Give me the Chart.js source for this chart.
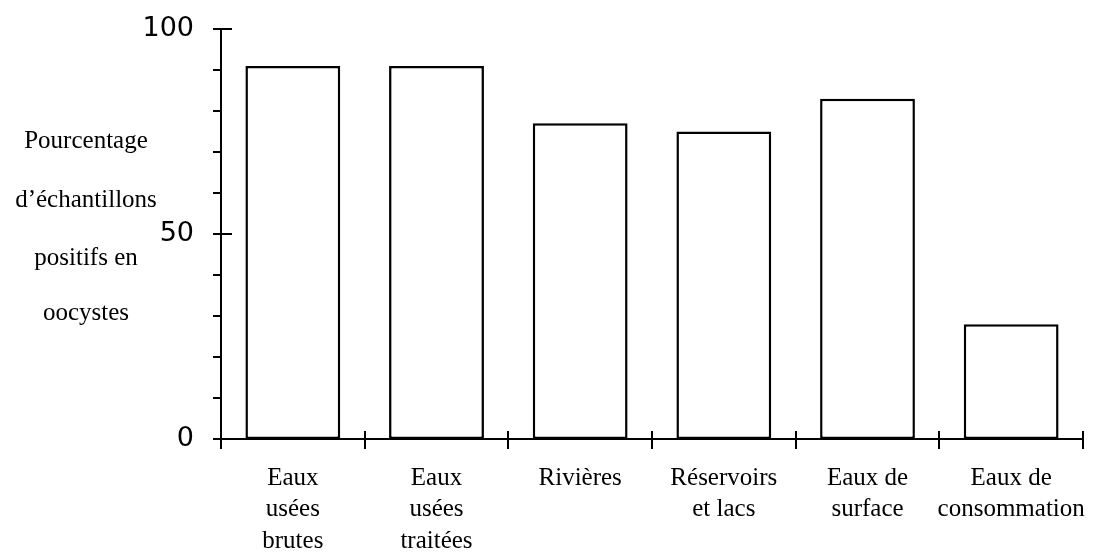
<!DOCTYPE html>
<html>
<head>
<meta charset="utf-8">
<script src="https://cdn.jsdelivr.net/npm/chart.js@4.4.1/dist/chart.umd.min.js"></script>
<style>
  html, body { margin: 0; padding: 0; background: #fff; }
  canvas { display: block; }
</style>
</head>
<body>
<canvas id="c" width="1096" height="552"></canvas>
<script>
const categories = [
  ["Eaux", "usées", "brutes"],
  ["Eaux", "usées", "traitées"],
  "Rivières",
  ["Réservoirs", "et lacs"],
  ["Eaux de", "surface"],
  ["Eaux de", "consommation"]
];
const values = [91, 91, 77, 75, 83, 28];
const yLabeledTicks = [0, 50, 100];
const yTitleLines = ["Pourcentage", "d’échantillons", "positifs en", "oocystes"];

const SERIF = '"Liberation Serif", "Times New Roman", serif';
const SANS = '"DejaVu Sans", Verdana, sans-serif';

const ticksPlugin = {
  id: 'ticksPlugin',
  afterDraw(chart) {
    const ctx = chart.ctx;
    const y = chart.scales.y;
    const area = chart.chartArea;
    ctx.save();
    ctx.strokeStyle = '#000';
    ctx.lineWidth = 2;
    ctx.lineCap = 'butt';
    for (let v = 0; v <= 100; v += 10) {
      const py = Math.round(y.getPixelForValue(v));
      const major = yLabeledTicks.includes(v);
      ctx.beginPath();
      ctx.moveTo(area.left - 8, py);
      ctx.lineTo(major ? area.left + 11 : area.left, py);
      ctx.stroke();
    }
    const n = categories.length;
    for (let i = 0; i <= n; i++) {
      const px = Math.round(area.left + i * (area.right - area.left) / n);
      ctx.beginPath();
      ctx.moveTo(px, area.bottom - 8);
      ctx.lineTo(px, area.bottom + 10);
      ctx.stroke();
    }
    ctx.fillStyle = '#000';
    ctx.font = '25px ' + SERIF;
    ctx.textAlign = 'center';
    ctx.textBaseline = 'alphabetic';
    const baselines = [148, 207, 265, 320];
    yTitleLines.forEach((t, i) => ctx.fillText(t, 86, baselines[i]));
    ctx.restore();
  }
};

new Chart(document.getElementById('c'), {
  type: 'bar',
  data: {
    labels: categories,
    datasets: [{
      data: values,
      backgroundColor: '#fff',
      borderColor: '#000',
      borderWidth: 2.5,
      borderSkipped: false,
      barPercentage: 0.66,
      categoryPercentage: 1
    }]
  },
  options: {
    responsive: false,
    animation: false,
    devicePixelRatio: 1,
    layout: { padding: { left: 0, top: 29, right: 13, bottom: 0 } },
    plugins: { legend: { display: false }, tooltip: { enabled: false }, title: { display: false } },
    scales: {
      x: {
        grid: { display: false, drawTicks: false },
        border: { display: true, color: '#000', width: 2 },
        ticks: {
          color: '#000',
          font: { family: SERIF, size: 25, lineHeight: 1.25 },
          padding: 24,
          maxRotation: 0,
          minRotation: 0,
          autoSkip: false
        },
        afterFit(scale) {
          scale.height = 113;
          scale.paddingLeft = 0; scale.paddingRight = 0;
        }
      },
      y: {
        min: 0,
        max: 100,
        grid: { display: false, drawTicks: false },
        border: { display: true, color: '#000', width: 2 },
        ticks: {
          stepSize: 10,
          color: '#000',
          padding: 27,
          font: { family: SANS, size: 27 },
          callback: (v) => yLabeledTicks.includes(v) ? String(v) : ''
        },
        afterFit(scale) {
          scale.width = 221;
          scale.paddingTop = 0; scale.paddingBottom = 0;
        }
      }
    }
  },
  plugins: [ticksPlugin]
});
</script>
</body>
</html>
